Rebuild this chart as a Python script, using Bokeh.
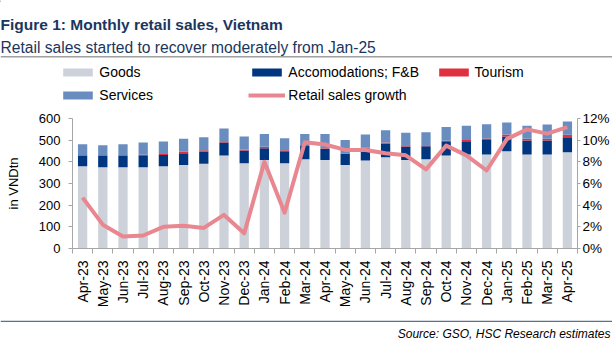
from math import pi
from bokeh.plotting import figure
from bokeh.layouts import column
from bokeh.models import (Range1d, LinearAxis, FixedTicker, PrintfTickFormatter,
                          Label, Legend, LegendItem, BoxAnnotation, ColumnDataSource)
from bokeh.embed import file_html
from bokeh.resources import INLINE

months = ["Apr-23", "May-23", "Jun-23", "Jul-23", "Aug-23", "Sep-23", "Oct-23", "Nov-23",
          "Dec-23", "Jan-24", "Feb-24", "Mar-24", "Apr-24", "May-24", "Jun-24", "Jul-24",
          "Aug-24", "Sep-24", "Oct-24", "Nov-24", "Dec-24", "Jan-25", "Feb-25", "Mar-25", "Apr-25"]
goods = [380, 375, 375, 375, 380, 385, 391, 429, 394, 409, 394, 412, 408, 385, 406, 421,
         409, 412, 429, 434, 434, 449, 434, 434, 444]
accom = [49, 54, 54, 55, 52, 55, 57, 60, 58, 54, 55, 63, 52, 52, 56, 62,
         62, 60, 62, 61, 67, 68, 64, 64, 70]
tourism = [2, 2, 2, 3, 4, 6, 6, 3, 5, 7, 5, 3, 3, 3, 4, 6, 5, 5, 6, 6, 7, 9, 8, 8, 11]
services = [50, 46, 50, 56, 58, 60, 60, 62, 60, 59, 55, 51, 66, 61, 60, 57,
            58, 60, 64, 65, 66, 55, 60, 66, 61]
growth = [4.7, 2.2, 1.1, 1.2, 2.0, 2.1, 1.9, 3.1, 1.4, 8.0, 3.3, 9.8, 9.6, 9.1, 9.1, 8.8,
          8.6, 7.3, 9.5, 8.6, 7.2, 10.1, 11.0, 10.6, 11.2]
left_ticks = [0, 100, 200, 300, 400, 500, 600]
right_ticks = [0, 2, 4, 6, 8, 10, 12]

FONT = "Liberation Sans"
NAVY = "#1B365D"
AXIS = "#A6A6A6"
C_GOODS, C_ACC, C_TOUR, C_SERV, C_LINE = "#CDD2DA", "#003580", "#E0303E", "#6A8DC0", "#E8878F"
W = 612
HEAD_H, MAIN_H, FOOT_H = 110, 210, 25


def blank(h):
    f = figure(width=W, height=h, output_backend="svg", toolbar_location=None,
               x_range=Range1d(0, W), y_range=Range1d(h, 0),
               x_axis_type=None, y_axis_type=None, frame_align=False,
               min_border_left=0, min_border_right=0, min_border_top=0, min_border_bottom=0)
    f.xgrid.visible = False
    f.ygrid.visible = False
    f.outline_line_color = None
    return f


# ---------------- header: titles, rule, legend ----------------
head = blank(HEAD_H)
head.add_layout(Label(x=0, y=24, text="Figure 1: Monthly retail sales, Vietnam",
                      text_font=FONT, text_font_size="15.5px", text_font_style="bold",
                      text_color=NAVY, text_baseline="alphabetic"))
head.add_layout(Label(x=0, y=46.5, text="Retail sales started to recover moderately from Jan-25",
                      text_font=FONT, text_font_size="15.6px", text_color=NAVY,
                      text_baseline="alphabetic"))
head.add_layout(BoxAnnotation(left=0, right=W, top=55.5, bottom=57, fill_color="#A0A0A0",
                              fill_alpha=1, line_color=None))

# legend-only proxies (placed off the visible range of the header)
OFF = [-1000]
lg_goods = head.vbar(x=OFF, top=[1], width=1, fill_color=C_GOODS, line_color=None)
lg_acc = head.vbar(x=OFF, top=[1], width=1, fill_color=C_ACC, line_color=None)
lg_tour = head.vbar(x=OFF, top=[1], width=1, fill_color=C_TOUR, line_color=None)
lg_serv = head.vbar(x=OFF, top=[1], width=1, fill_color=C_SERV, line_color=None)
lg_line = head.line(x=OFF, y=[1], line_width=4, line_color=C_LINE)


def mk_legend(items, left, bottom):
    lg = Legend(items=items, location=(left, HEAD_H - bottom), orientation="vertical",
                padding=0, margin=0, spacing=3, glyph_width=37, glyph_height=10,
                label_standoff=3, label_height=20, label_text_font=FONT,
                label_text_font_size="14px", label_text_color="#000000",
                border_line_color=None, background_fill_alpha=0)
    head.add_layout(lg)


mk_legend([LegendItem(label="Goods", renderers=[lg_goods]),
           LegendItem(label="Services", renderers=[lg_serv])], 59.3, 105)
mk_legend([LegendItem(label="Accomodations; F&B", renderers=[lg_acc]),
           LegendItem(label="Retail sales growth", renderers=[lg_line])], 248.3, 105)
mk_legend([LegendItem(label="Tourism", renderers=[lg_tour])], 434.6, 82)

# ---------------- main chart ----------------
x = list(range(len(months)))
src = ColumnDataSource(dict(x=x, goods=goods, accom=accom, tourism=tourism,
                            services=services, growth=growth))

p = figure(width=W, height=MAIN_H, output_backend="svg", toolbar_location=None,
           x_range=Range1d(-0.5, len(months) - 0.5), y_range=Range1d(0, 600),
           frame_align=False,
           min_border_left=72, min_border_right=33, min_border_top=8, min_border_bottom=72)
p.extra_y_ranges = {"pct": Range1d(0, 12)}
p.xgrid.visible = False
p.ygrid.visible = False
p.outline_line_color = None

bars = p.vbar_stack(["goods", "accom", "tourism", "services"], x="x", width=0.46, source=src,
                    fill_color=[C_GOODS, C_ACC, C_TOUR, C_SERV], line_color=None)
ln = p.line("x", "growth", source=src, y_range_name="pct", line_width=4,
            line_color=C_LINE, line_join="round")

xa = p.xaxis[0]
xa.ticker = FixedTicker(ticks=x, minor_ticks=[i - 0.5 for i in range(len(months) + 1)])
xa.major_label_overrides = {i: m for i, m in enumerate(months)}
xa.major_label_orientation = pi / 2
xa.major_tick_line_color = None
xa.major_tick_out = 0
xa.major_tick_in = 0
xa.minor_tick_out = 5
xa.minor_tick_in = 0
xa.minor_tick_line_color = AXIS
xa.axis_line_color = AXIS
xa.major_label_standoff = 7
xa.major_label_text_font = FONT
xa.major_label_text_font_size = "14px"
xa.major_label_text_color = "#000000"

ya = p.yaxis[0]
ya.ticker = FixedTicker(ticks=left_ticks)
ya.minor_tick_line_color = None
ya.major_tick_in = 0
ya.major_tick_out = 4
ya.major_tick_line_color = AXIS
ya.axis_line_color = AXIS
ya.major_label_standoff = 8
ya.major_label_text_font = FONT
ya.major_label_text_font_size = "13px"
ya.major_label_text_color = "#000000"
ya.axis_label = "in VNDtn"
ya.axis_label_text_font = FONT
ya.axis_label_text_font_size = "13px"
ya.axis_label_text_font_style = "normal"
ya.axis_label_text_color = "#000000"
ya.axis_label_standoff = 15

ra = LinearAxis(y_range_name="pct", ticker=FixedTicker(ticks=right_ticks),
                formatter=PrintfTickFormatter(format="%d%%"))
ra.minor_tick_line_color = None
ra.major_tick_in = 0
ra.major_tick_out = 3
ra.major_tick_line_color = AXIS
ra.axis_line_color = AXIS
ra.major_label_standoff = 2
ra.major_label_text_font = FONT
ra.major_label_text_font_size = "13.5px"
ra.major_label_text_color = "#000000"
p.add_layout(ra, "right")

# ---------------- footer: rule and source ----------------
foot = blank(FOOT_H)
foot.add_layout(BoxAnnotation(left=0, right=W, top=0, bottom=1.5, fill_color="#5A7090",
                              fill_alpha=1, line_color=None))
foot.add_layout(Label(x=610, y=13.5, text="Source: GSO, HSC Research estimates",
                      text_font=FONT, text_font_size="12px", text_font_style="italic",
                      text_color="#000000", text_align="right", text_baseline="alphabetic"))

layout = column(head, p, foot, spacing=0)
open("out.html", "w").write(file_html(layout, INLINE))
